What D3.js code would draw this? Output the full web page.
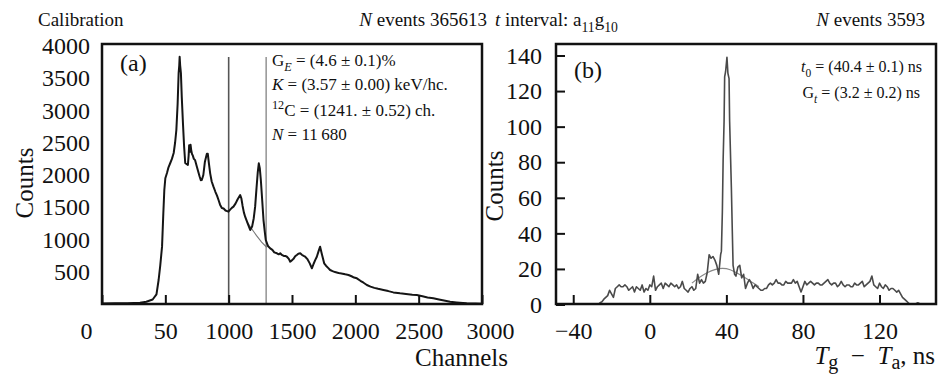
<!DOCTYPE html>
<html>
<head>
<meta charset="utf-8">
<script src="https://cdn.jsdelivr.net/npm/d3@7"></script>
<style>
  body { margin: 0; background: #fff; }
  svg { display: block; }
</style>
</head>
<body>
<script>
// panel (a): calibration spectrum, channel -> counts
var chA = [0, 100, 200, 300, 350, 400, 430, 447, 460, 474, 484, 492, 500, 513, 525, 539, 552, 566, 577, 587, 597, 605, 610, 613, 617, 623, 630, 639, 648, 657, 667, 678, 684, 688, 691, 695, 699, 704, 710, 717, 725, 735, 749, 760, 770, 780, 788, 800, 812, 822, 828, 835, 844, 854, 866, 880, 895, 908, 920, 932, 946, 960, 975, 988, 998, 1010, 1025, 1038, 1055, 1070, 1091, 1100, 1110, 1120, 1130, 1150, 1170, 1185, 1198, 1209, 1220, 1230, 1238, 1246, 1254, 1265, 1275, 1285, 1293, 1310, 1328, 1345, 1360, 1381, 1395, 1407, 1420, 1435, 1447, 1460, 1475, 1486, 1500, 1512, 1525, 1538, 1550, 1565, 1580, 1592, 1604, 1620, 1640, 1657, 1670, 1683, 1696, 1710, 1722, 1735, 1754, 1770, 1785, 1801, 1820, 1840, 1860, 1880, 1900, 1920, 1946, 1970, 1990, 2012, 2040, 2065, 2091, 2120, 2150, 2180, 2222, 2260, 2300, 2353, 2400, 2450, 2485, 2530, 2570, 2616, 2660, 2700, 2748, 2800, 2850, 2879, 2950, 3000];
var cntA = [8, 10, 12, 20, 35, 70, 150, 372, 600, 889, 1400, 1767, 1950, 2030, 2120, 2186, 2250, 2341, 2500, 2698, 3100, 3581, 3700, 3834, 3700, 3581, 3200, 2806, 2450, 2186, 2170, 2155, 2300, 2460, 2439, 2360, 2470, 2390, 2330, 2300, 2250, 2230, 2129, 2050, 1980, 1920, 1922, 2000, 2200, 2284, 2330, 2330, 2180, 2026, 1900, 1819, 1740, 1680, 1612, 1540, 1488, 1480, 1450, 1440, 1431, 1460, 1490, 1509, 1560, 1620, 1690, 1640, 1520, 1420, 1354, 1250, 1147, 1200, 1330, 1509, 1800, 2050, 2181, 2100, 1922, 1600, 1302, 1120, 992, 900, 863, 840, 800, 786, 770, 786, 760, 745, 745, 733, 700, 656, 680, 700, 740, 760, 780, 786, 760, 745, 733, 700, 630, 553, 620, 680, 733, 820, 889, 780, 630, 590, 560, 527, 510, 495, 485, 475, 470, 460, 450, 430, 410, 398, 360, 330, 295, 270, 250, 235, 217, 200, 180, 165, 155, 145, 140, 120, 100, 88, 70, 55, 36, 25, 15, 10, 6, 5];
var fitChA = [1140, 1180, 1220, 1260, 1300];
var fitCntA = [1290, 1170, 1060, 960, 880];
var cutsA = [1000, 1296];
var xTicksA = [0, 500, 1000, 1500, 2000, 2500, 3000];
var xLabelsA = ["0", "50", "1000", "1500", "2000", "2500", "3000"];
var yTicksA = [500, 1000, 1500, 2000, 2500, 3000, 3500, 4000];

// panel (b): time difference spectrum, ns -> counts
var nsB = [-34, -30, -27, -26, -25, -24, -23, -22, -21, -20, -19, -18, -17, -16, -15, -14, -13, -12, -11, -10, -9, -8, -7, -6, -5, -4, -3, -2, -1, 0, 1, 2, 3, 4, 5, 6, 7, 8, 9, 10, 11, 12, 13, 14, 15, 16, 17, 18, 19, 20, 21, 22, 23, 24, 25, 26, 27, 28, 29, 30, 31, 32, 33, 34, 35, 36, 37, 37.4, 37.9, 38.3, 38.8, 39.1, 39.6, 40.3, 40.8, 41.4, 41.7, 42.6, 43.1, 43.5, 44.3, 45, 46, 47, 48, 49, 50, 51, 52, 53, 54, 55, 56, 57, 58, 59, 60, 61, 62, 63, 64, 65, 66, 67, 68, 69, 70, 71, 72, 73, 74, 75, 76, 77, 78, 79, 80, 81, 82, 83, 84, 85, 86, 87, 88, 89, 90, 91, 92, 93, 94, 95, 96, 97, 98, 99, 100, 101, 102, 103, 104, 105, 106, 107, 108, 109, 110, 111, 112, 113, 114, 115, 116, 117, 118, 119, 120, 121, 122, 123, 124, 125, 126, 127, 128, 129, 130, 131, 132, 133, 134, 135, 136, 138, 139, 140, 141, 142, 143];
var cntB = [0, 0, 0, 1, 1.5, 3, 4, 5, 8, 6, 4, 9, 10, 11, 10, 10, 11, 10, 8, 9, 10, 7, 10, 9, 8, 11, 7, 9, 8, 11, 10, 16, 8, 10, 11, 12, 9, 12, 11, 10, 12, 11, 10, 11, 9, 10, 13, 9, 8, 7, 9, 10, 8, 9, 17, 12, 14, 12, 13, 18, 28, 26, 27, 25, 22, 17, 28, 30, 52, 81, 103, 128, 131, 139, 130, 127, 103, 66, 41, 22, 17, 16, 21, 22, 15, 17, 9, 12, 14, 12, 9, 11, 10, 9, 8, 8, 9, 9, 11, 12, 11, 12, 14, 12, 12, 11, 11, 13, 12, 12, 12, 14, 12, 13, 10, 7, 10, 13, 11, 12, 13, 12, 11, 12, 12, 11, 11, 12, 13, 14, 12, 11, 12, 12, 10, 11, 13, 11, 10, 11, 11, 10, 10, 12, 11, 11, 12, 13, 10, 11, 12, 13, 16, 11, 10, 9, 12, 10, 9, 11, 10, 8, 9, 9, 8, 7, 8, 6, 4, 3, 2, 1, 0, 0, 0.5, 1, 0.5, 0, 0];
var fitNsB = [22, 26, 30, 34, 38, 42, 46, 50, 54, 57];
var fitCntB = [12, 15.5, 18, 19.8, 20.5, 19.8, 17.5, 15, 12, 10];
var xTicksB = [-40, 0, 40, 80, 120];
var yTicksB = [0, 20, 40, 60, 80, 100, 120, 140];

var W = 940, H = 375;
var serif = '"Liberation Serif", "Times New Roman", serif';

var svg = d3.select('body').append('svg')
  .attr('width', W).attr('height', H)
  .attr('font-family', serif);

// text with italic / sub / sup pieces
function rich(g, x, y, parts, size, anchor, subShift, subSize) {
  var t = g.append('text').attr('x', x).attr('y', y)
    .attr('font-family', serif)
    .attr('font-size', size).attr('text-anchor', anchor || 'start').attr('fill', '#111');
  var shift = 0;
  parts.forEach(function(p) {
    var st = p[1] || '';
    var target = 0, fs = null;
    if (st.indexOf('sub') >= 0) { target = size * (subShift || 0.3); fs = size * (subSize || 0.72); }
    if (st.indexOf('sup') >= 0) { target = -size * 0.4; fs = size * 0.72; }
    var ts = t.append('tspan').text(p[0]).attr('dy', target - shift);
    shift = target;
    if (fs) ts.attr('font-size', fs);
    if (st.charAt(0) == 'i') ts.attr('font-style', 'italic');
  });
  return t;
}

function frame(l, t, r, b, id) {
  svg.append('clipPath').attr('id', id)
    .append('rect').attr('x', l).attr('y', t).attr('width', r - l).attr('height', b - t);
}

// ---------- panel (a)
var A = {l: 102, r: 482, t: 44, b: 304};
var xA = d3.scaleLinear().domain([0, 3000]).range([A.l, A.r]);
var yA = d3.scaleLinear().domain([0, 4000]).range([A.b, 46]);
frame(A.l, A.t, A.r, A.b, 'clipA');

var gA = svg.append('g');
gA.append('g').attr('clip-path', 'url(#clipA)')
  .selectAll('line.cut').data(cutsA).enter().append('line')
  .attr('x1', function(d) { return xA(d); }).attr('x2', function(d) { return xA(d); })
  .attr('y1', 57).attr('y2', A.b)
  .attr('stroke', function(d, i) { return i == 0 ? '#555' : '#999'; })
  .attr('stroke-width', 1.6);

var lineA = d3.line().x(function(d) { return xA(d[0]); }).y(function(d) { return yA(d[1]); });
gA.append('path').attr('clip-path', 'url(#clipA)')
  .datum(d3.zip(fitChA, fitCntA))
  .attr('d', lineA).attr('fill', 'none').attr('stroke', '#777').attr('stroke-width', 1.1);
gA.append('path').attr('clip-path', 'url(#clipA)')
  .datum(d3.zip(chA, cntA))
  .attr('d', lineA).attr('fill', 'none').attr('stroke', '#151515').attr('stroke-width', 2)
  .attr('stroke-linejoin', 'round');

var axA = gA.append('g').attr('transform', 'translate(0,' + A.b + ')')
  .call(d3.axisBottom(xA).tickValues(xTicksA).tickSize(-9).tickPadding(18)
    .tickFormat(function(d, i) { return xLabelsA[i]; }));
axA.attr('font-family', serif);
axA.select('.domain').remove();
axA.selectAll('line').attr('stroke', '#111').attr('stroke-width', 2);
axA.selectAll('text').attr('font-size', 24).attr('fill', '#111')
  .attr('dx', function(d) { return d == 0 ? -16 : (d == 3000 ? 8 : 0); });

var ayA = gA.append('g').attr('transform', 'translate(' + A.l + ',0)')
  .call(d3.axisLeft(yA).tickValues(yTicksA).tickSize(0).tickPadding(12).tickFormat(d3.format('d')));
ayA.attr('font-family', serif);
ayA.select('.domain').remove();
ayA.selectAll('text').attr('font-size', 24).attr('fill', '#111');

gA.append('rect').attr('x', A.l).attr('y', A.t).attr('width', A.r - A.l).attr('height', A.b - A.t)
  .attr('fill', 'none').attr('stroke', '#111').attr('stroke-width', 2.5);

rich(gA, 120, 71, [['(a)']], 24);
rich(gA, 272, 66, [['G'], ['E', 'isub'], [' = (4.6 ± 0.1)%']], 17);
rich(gA, 272, 90, [['K', 'i'], [' = (3.57 ± 0.00) keV/hc.']], 17);
rich(gA, 272, 116, [['12', 'sup'], ['C = (1241. ± 0.52) ch.']], 17);
rich(gA, 272, 140, [['N', 'i'], [' = 11\u2009680']], 17);

rich(gA, 38, 26, [['Calibration']], 19);
rich(gA, 487, 26, [['N', 'i'], [' events 365613']], 19, 'end');
gA.append('text').attr('transform', 'translate(33,183) rotate(-90)')
  .attr('font-family', serif)
  .attr('text-anchor', 'middle').attr('font-size', 25).attr('fill', '#111').text('Counts');
rich(gA, 508, 366, [['Channels']], 25, 'end');

// ---------- panel (b)
var B = {l: 556, r: 936, t: 44, b: 304};
var xB = d3.scaleLinear().domain([-49, 149.5]).range([B.l, B.r]);
var yB = d3.scaleLinear().domain([0, 140]).range([304.5, 55.5]);
frame(B.l, B.t, B.r, B.b, 'clipB');

var gB = svg.append('g');
var lineB = d3.line().x(function(d) { return xB(d[0]); }).y(function(d) { return yB(d[1]); });
gB.append('path').attr('clip-path', 'url(#clipB)')
  .datum(d3.zip(fitNsB, fitCntB)).attr('d', d3.line().curve(d3.curveBasis)
    .x(function(d) { return xB(d[0]); }).y(function(d) { return yB(d[1]); }))
  .attr('fill', 'none').attr('stroke', '#888').attr('stroke-width', 1.2);
gB.append('path').attr('clip-path', 'url(#clipB)')
  .datum(d3.zip(nsB, cntB)).attr('d', lineB)
  .attr('fill', 'none').attr('stroke', '#4a4a4a').attr('stroke-width', 1.6)
  .attr('stroke-linejoin', 'round');

var axB = gB.append('g').attr('transform', 'translate(0,' + B.b + ')')
  .call(d3.axisBottom(xB).tickValues(xTicksB).tickSize(-9).tickPadding(18));
axB.attr('font-family', serif);
axB.select('.domain').remove();
axB.selectAll('line').attr('stroke', '#111').attr('stroke-width', 2);
axB.selectAll('text').attr('font-size', 24).attr('fill', '#111');

var ayB = gB.append('g').attr('transform', 'translate(' + B.l + ',0)')
  .call(d3.axisLeft(yB).tickValues(yTicksB).tickSize(-9).tickPadding(14));
ayB.attr('font-family', serif);
ayB.select('.domain').remove();
ayB.selectAll('line').attr('stroke', '#111').attr('stroke-width', 2);
ayB.selectAll('text').attr('font-size', 24).attr('fill', '#111');

gB.append('rect').attr('x', B.l).attr('y', B.t).attr('width', B.r - B.l).attr('height', B.b - B.t)
  .attr('fill', 'none').attr('stroke', '#111').attr('stroke-width', 2.5);

rich(gB, 574, 78, [['(b)']], 24);
rich(gB, 922, 72, [['t', 'i'], ['0', 'sub'], [' = (40.4 ± 0.1) ns']], 16, 'end');
rich(gB, 920, 98, [['G'], ['t', 'isub'], [' = (3.2 ± 0.2) ns']], 16, 'end');

rich(gB, 495, 26, [['t', 'i'], [' interval: a'], ['11', 'sub'], ['g'], ['10', 'sub']], 19);
rich(gB, 925, 26, [['N', 'i'], [' events 3593']], 19, 'end');
gB.append('text').attr('transform', 'translate(503,186) rotate(-90)')
  .attr('font-family', serif)
  .attr('text-anchor', 'middle').attr('font-size', 25).attr('fill', '#111').text('Counts');
rich(gB, 935, 364, [['T', 'i'], ['g', 'sub'], ['\u2002−\u2002'], ['T', 'i'], ['a', 'sub'], [', ns']], 25, 'end', 0.18, 0.8);
</script>
</body>
</html>
